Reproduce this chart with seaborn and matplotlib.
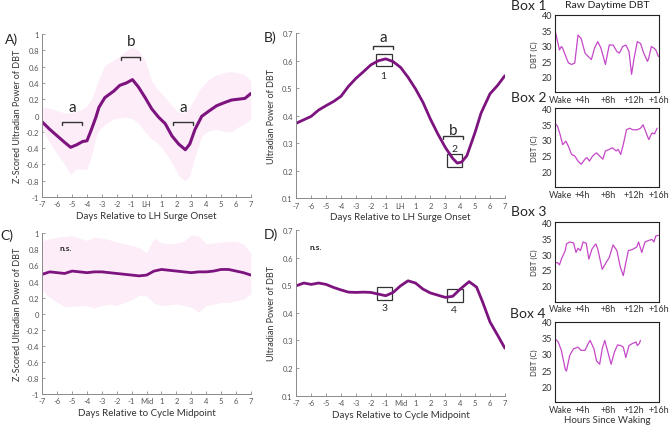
import numpy as np
import pandas as pd
import matplotlib
matplotlib.use("Agg")
import matplotlib.pyplot as plt
from matplotlib.patches import Rectangle
import matplotlib.transforms as mtransforms
import seaborn as sns

# ---------------- data ----------------
days_A = [-7, -6.5, -6, -5.5, -5.1, -4.7, -4.3, -4.0, -3.7, -3.4, -3.2, -2.8, -2.2, -1.8, -1.35, -0.95,
          -0.55, -0.1, 0.35, 0.8, 1.25, 1.7, 2.15, 2.6, 2.9, 3.25, 3.7, 4.15, 4.7, 5.25, 5.7, 6.15, 6.6, 7.0]
line_A = [-0.08, -0.17, -0.25, -0.33, -0.39, -0.36, -0.32, -0.31, -0.17, -0.02, 0.1, 0.22, 0.3, 0.37, 0.4, 0.44,
          0.35, 0.22, 0.08, -0.02, -0.1, -0.25, -0.35, -0.42, -0.35, -0.17, -0.01, 0.05, 0.12, 0.16, 0.19, 0.2, 0.21, 0.27]
upper_A = [0.1, 0.09, 0.06, 0.03, 0.03, 0.05, 0.08, 0.12, 0.2, 0.35, 0.45, 0.62, 0.68, 0.73, 0.8, 0.84,
           0.8, 0.68, 0.42, 0.31, 0.22, 0.12, 0.04, 0.04, 0.1, 0.22, 0.35, 0.44, 0.5, 0.53, 0.54, 0.52, 0.5, 0.42]
lower_A = [-0.17, -0.33, -0.47, -0.6, -0.72, -0.65, -0.66, -0.66, -0.5, -0.27, -0.18, -0.11, -0.04, -0.03, -0.02, -0.04,
           -0.09, -0.2, -0.29, -0.35, -0.45, -0.58, -0.74, -0.8, -0.74, -0.5, -0.25, -0.19, -0.17, -0.2, -0.2, -0.14, -0.1, -0.04]

days_B = [-7, -6, -5.5, -5, -4.5, -4, -3.5, -3, -2.5, -2, -1.5, -1, -0.5, 0, 0.5, 1, 1.5, 2, 2.5, 3, 3.5,
          3.8, 4.1, 4.45, 5, 5.4, 6, 6.5, 7]
line_B = [0.373, 0.398, 0.421, 0.437, 0.452, 0.471, 0.507, 0.536, 0.56, 0.585, 0.6, 0.607, 0.597, 0.576, 0.54,
          0.498, 0.449, 0.388, 0.334, 0.285, 0.245, 0.228, 0.232, 0.255, 0.34, 0.41, 0.48, 0.51, 0.546]

days_C = [-7, -6.5, -6, -5.5, -5, -4.5, -4, -3.5, -3, -2.5, -2, -1.5, -1, -0.5, 0, 0.5, 1, 1.5, 2, 2.5, 3,
          3.5, 4, 4.5, 5, 5.5, 6, 6.5, 7]
line_C = [0.49, 0.52, 0.51, 0.5, 0.53, 0.52, 0.51, 0.52, 0.52, 0.51, 0.5, 0.49, 0.48, 0.47, 0.48, 0.53, 0.55,
          0.54, 0.53, 0.52, 0.51, 0.52, 0.52, 0.53, 0.55, 0.55, 0.53, 0.51, 0.48]
upper_C = [0.91, 0.93, 0.95, 0.96, 0.97, 0.94, 0.91, 0.95, 0.94, 0.92, 0.89, 0.87, 0.85, 0.82, 0.76, 0.94, 0.88,
           0.87, 0.88, 0.9, 0.98, 0.97, 0.87, 0.88, 0.89, 0.9, 0.9, 0.87, 0.75]
lower_C = [0.29, 0.2, 0.14, 0.09, 0.09, 0.1, 0.1, 0.07, 0.1, 0.12, 0.1, 0.14, 0.17, 0.23, 0.22, 0.13, 0.1,
           0.11, 0.12, 0.1, 0.08, 0.02, 0.1, 0.12, 0.14, 0.14, 0.16, 0.18, 0.25]

days_D = [-7, -6.5, -6, -5.5, -5, -4.5, -4, -3.5, -3, -2.5, -2, -1.5, -1, -0.5, 0, 0.5, 1, 1.5, 2, 2.5, 3,
          3.5, 4, 4.6, 5.1, 5.5, 6, 6.5, 7]
line_D = [0.498, 0.508, 0.503, 0.508, 0.503, 0.492, 0.483, 0.475, 0.474, 0.475, 0.474, 0.468, 0.462, 0.474,
          0.498, 0.516, 0.508, 0.486, 0.472, 0.464, 0.456, 0.46, 0.486, 0.513, 0.493, 0.44, 0.367, 0.32, 0.272]

hours_1 = [-0.3, 0.1, 0.4, 0.7, 0.9, 1.3, 1.8, 2.3, 2.8, 3.3, 3.8, 4.4, 4.9, 5.4, 5.9, 6.4, 6.9, 7.6, 8.2, 8.8,
           9.4, 9.8, 10.3, 10.8, 11.3, 11.7, 12.1, 12.6, 13.1, 13.6, 14.2, 14.4, 14.8, 15.2, 15.5, 15.9]
dbt_1 = [35, 31.3, 28.6, 29.7, 29.2, 27, 24.4, 23.9, 24.4, 33.4, 32.3, 27.6, 26.5, 25.5, 29.2, 31.3, 29.2, 23.9,
         30.2, 30.2, 28.1, 27.6, 29.7, 30.2, 28.1, 20.7, 26, 31.3, 30.7, 27.6, 24.9, 26, 29.7, 29.2, 28.6, 26.5]
hours_2 = [-0.3, 0.1, 0.5, 0.9, 1.4, 1.8, 2.3, 2.8, 3.3, 3.8, 4.4, 4.7, 5.1, 5.6, 6.2, 6.7, 7.2, 7.6, 8.2, 8.7,
           9.3, 9.6, 10.0, 10.4, 10.9, 11.4, 11.9, 12.6, 13.1, 13.5, 13.9, 14.4, 14.9, 15.3, 15.7]
dbt_2 = [35.3, 34.3, 31.7, 28.5, 29.6, 28, 25.4, 24.9, 23.3, 22.3, 23.9, 24.4, 23.3, 24.9, 25.9, 24.9, 23.9, 26.5,
         27, 27.5, 26.5, 27, 25.4, 28.5, 33.2, 33.7, 33.2, 33.2, 33.7, 34.8, 32.7, 30.1, 32.2, 31.9, 33.7]
hours_3 = [-0.3, 0.1, 0.4, 0.7, 1.3, 1.5, 2.0, 2.6, 3.0, 3.3, 3.7, 4.1, 4.6, 5.0, 5.5, 6.1, 6.4, 7.1, 7.7, 8.2,
           8.8, 9.4, 9.9, 10.4, 10.8, 11.2, 11.8, 12.5, 12.8, 13.3, 13.8, 14.4, 14.9, 15.2, 15.5, 15.9]
dbt_3 = [27.3, 27.3, 26.6, 28.4, 31.1, 33.2, 33.8, 33.5, 30.5, 31.8, 31.1, 33.8, 33.4, 28.4, 31.6, 33.2, 31.6,
         25.2, 27.3, 28.9, 32.9, 31.1, 26.2, 23.2, 27.3, 31.1, 31.4, 32.2, 33.8, 30.5, 33.8, 34.3, 34.6, 33.8, 35.7, 35.9]
hours_4 = [-0.3, 0.2, 0.7, 1.3, 1.5, 2.0, 2.6, 3.3, 3.8, 4.4, 4.9, 5.2, 5.8, 6.2, 6.7, 7.1, 7.5, 8.0, 8.5, 9.0,
           9.5, 10.0, 10.4, 10.8, 11.3, 11.8, 12.4, 12.6, 12.9, 13.1]
dbt_4 = [34.7, 33.7, 31.1, 25.3, 24.7, 29.5, 31.6, 32.1, 31.1, 31.1, 33.2, 34.2, 31.6, 27.9, 26.8, 31.6, 34.2,
         30.5, 26.8, 30.5, 32.8, 32.6, 32.1, 28.9, 32.6, 33.2, 33.7, 32.6, 33.2, 34.2]

day_ticks = list(range(-7, 8))
lh_labels = ['-7', '-6', '-5', '-4', '-3', '-2', '-1', 'LH', '1', '2', '3', '4', '5', '6', '7']
mid_labels = ['-7', '-6', '-5', '-4', '-3', '-2', '-1', 'Mid', '1', '2', '3', '4', '5', '6', '7']
z_ticks = [-1, -0.8, -0.6, -0.4, -0.2, 0, 0.2, 0.4, 0.6, 0.8, 1]
z_labels = ['-1', '-0.8', '-0.6', '-0.4', '-0.2', '0', '0.2', '0.4', '0.6', '0.8', '1']
p_ticks = [0.1, 0.2, 0.3, 0.4, 0.5, 0.6, 0.7]
p_labels = ['0.1', '0.2', '0.3', '0.4', '0.5', '0.6', '0.7']
hour_ticks = [0, 4, 8, 12, 16]
hour_labels = ['Wake', '+4h', '+8h', '+12h', '+16h']
dbt_ticks = [20, 25, 30, 35, 40]

# ---------------- style ----------------
sns.set_style("ticks")
plt.rcParams['font.family'] = ['Lato', 'DejaVu Sans']

LINE = '#7d137f'
BAND = '#fcedf8'
RAW = '#c548c8'
TICKC = '#555555'
SPINE = '#8a8a8a'

W, H = 670, 427
fig = plt.figure(figsize=(6.7, 4.27), dpi=100)


def px_axes(left, top, right, bottom):
    return fig.add_axes([left / W, 1 - bottom / H, (right - left) / W, (bottom - top) / H])


def ftext(x, y, s, **kw):
    fig.text(x / W, 1 - y / H, s, **kw)


def style_main(ax, ylim, yt, yl, xl):
    ax.set_xlim(-7, 7)
    ax.set_ylim(*ylim)
    ax.set_xticks(day_ticks)
    ax.set_xticklabels(xl)
    ax.set_yticks(yt)
    ax.set_yticklabels(yl)
    sns.despine(ax=ax)
    for s in ['left', 'bottom']:
        ax.spines[s].set_color(SPINE)
        ax.spines[s].set_linewidth(0.7)
    ax.tick_params(direction='in', length=2.5, width=0.6, color=SPINE, labelsize=5.5,
                   labelcolor=TICKC, pad=2.5)


def bracket(ax, x0, x1, y, h):
    ax.plot([x0, x0, x1, x1], [y - h, y, y, y - h], color='#333333', lw=1.0, solid_joinstyle='miter')


# Panel A
axA = px_axes(42.3, 35, 250.9, 198)
axA.fill_between(days_A, lower_A, upper_A, color=BAND, lw=0)
sns.lineplot(x=days_A, y=line_A, ax=axA, color=LINE, lw=2.2, sort=False)
style_main(axA, (-1, 1), z_ticks, z_labels, lh_labels)
bracket(axA, -5.68, -4.34, -0.08, 0.04)
bracket(axA, -1.72, -0.44, 0.72, 0.04)
bracket(axA, 1.8, 3.1, -0.08, 0.04)
axA.text(-5.0, 0.10, 'a', ha='center', va='center', fontsize=11)
axA.text(2.45, 0.10, 'a', ha='center', va='center', fontsize=11)
axA.text(-1.05, 0.91, 'b', ha='center', va='center', fontsize=11)

# Panel B
axB = px_axes(296.3, 34.3, 504.9, 199.3)
sns.lineplot(x=days_B, y=line_B, ax=axB, color=LINE, lw=2.0, sort=False)
style_main(axB, (0.1, 0.7), p_ticks, p_labels, lh_labels)
axB.add_patch(Rectangle((-1.67, 0.58), 1.07, 0.045, fill=False, ec='#333333', lw=0.9))
axB.add_patch(Rectangle((3.1, 0.213), 1.04, 0.048, fill=False, ec='#333333', lw=0.9))
axB.text(-1.15, 0.547, '1', ha='center', va='center', fontsize=7.5)
axB.text(3.6, 0.28, '2', ha='center', va='center', fontsize=7.5)
bracket(axB, -1.85, -0.5, 0.655, 0.013)
bracket(axB, 2.85, 4.2, 0.327, 0.013)
axB.text(-1.15, 0.688, 'a', ha='center', va='center', fontsize=11)
axB.text(3.5, 0.347, 'b', ha='center', va='center', fontsize=11)

# Panel C
axC = px_axes(42.3, 234.3, 250.9, 395)
axC.fill_between(days_C, lower_C, upper_C, color=BAND, lw=0)
sns.lineplot(x=days_C, y=line_C, ax=axC, color=LINE, lw=2.0, sort=False)
style_main(axC, (-1, 1), z_ticks, z_labels, mid_labels)
axC.text(-5.4, 0.82, 'n.s.', ha='center', va='center', fontsize=6, fontweight='bold', color='#222222')

# Panel D
axD = px_axes(296.3, 231, 504.9, 396.7)
sns.lineplot(x=days_D, y=line_D, ax=axD, color=LINE, lw=2.0, sort=False)
style_main(axD, (0.1, 0.7), p_ticks, p_labels, mid_labels)
axD.add_patch(Rectangle((-1.6, 0.446), 1.05, 0.046, fill=False, ec='#333333', lw=0.9))
axD.add_patch(Rectangle((3.1, 0.438), 1.07, 0.048, fill=False, ec='#333333', lw=0.9))
axD.text(-1.1, 0.418, '3', ha='center', va='center', fontsize=7.5)
axD.text(3.6, 0.412, '4', ha='center', va='center', fontsize=7.5)
axD.text(-5.7, 0.64, 'n.s.', ha='center', va='center', fontsize=6, fontweight='bold', color='#222222')

# axis labels for main panels
for ax, lab in [(axA, 'Days Relative to LH Surge Onset'), (axB, 'Days Relative to LH Surge Onset'),
                (axC, 'Days Relative to Cycle Midpoint'), (axD, 'Days Relative to Cycle Midpoint')]:
    ax.set_xlabel(lab, fontsize=7, color='#333333')
    ax.xaxis.set_label_coords(0.5, -0.085)
for ax, lab in [(axA, 'Z-Scored Ultradian Power of DBT'), (axC, 'Z-Scored Ultradian Power of DBT'),
                (axB, 'Ultradian Power of DBT'), (axD, 'Ultradian Power of DBT')]:
    ax.set_ylabel(lab, fontsize=6.5, color='#333333')
    ax.yaxis.set_label_coords(-0.098, 0.5)

# raw DBT boxes
box_frames = [(15.7, 93), (109.3, 188.3), (223.3, 302.7), (322.7, 403.3)]
box_data = [(hours_1, dbt_1), (hours_2, dbt_2), (hours_3, dbt_3), (hours_4, dbt_4)]
for (top, bottom), (hx, hy) in zip(box_frames, box_data):
    ax = px_axes(555, top, 659, bottom)
    sns.lineplot(x=hx, y=hy, ax=ax, color=RAW, lw=0.9, sort=False)
    ax.set_xlim(-0.3, 16)
    ax.set_ylim(15, 40)
    ax.set_xticks(hour_ticks)
    ax.set_xticklabels(hour_labels)
    ax.set_yticks(dbt_ticks)
    ax.tick_params(length=0, labelsize=6.5, labelcolor='#333333', pad=2)
    # nudge 'Wake' label slightly right as in the reference
    wl = ax.get_xticklabels()[0]
    wl.set_transform(wl.get_transform() + mtransforms.ScaledTranslation(4 / 100, 0, fig.dpi_scale_trans))
    for s in ax.spines.values():
        s.set_color('#222222')
        s.set_linewidth(0.8)
    ax.set_ylabel('DBT (C)', fontsize=5.5, color='#333333', labelpad=3)
    ax.set_xlabel('')

# panel / box labels
ftext(5, 40, 'A)', fontsize=10, va='center')
ftext(264, 38, 'B)', fontsize=10, va='center')
ftext(0, 236, 'C)', fontsize=10, va='center')
ftext(264, 235, 'D)', fontsize=10, va='center')
ftext(511, 6, 'Box 1', fontsize=10, va='center')
ftext(511, 98, 'Box 2', fontsize=10, va='center')
ftext(511, 212, 'Box 3', fontsize=10, va='center')
ftext(510, 314, 'Box 4', fontsize=10, va='center')
ftext(607, 6, 'Raw Daytime DBT', fontsize=7.5, ha='center', va='center', color='#222222')
ftext(607, 421, 'Hours Since Waking', fontsize=7, ha='center', va='center', color='#333333')

fig.savefig('out.png', dpi=100)
